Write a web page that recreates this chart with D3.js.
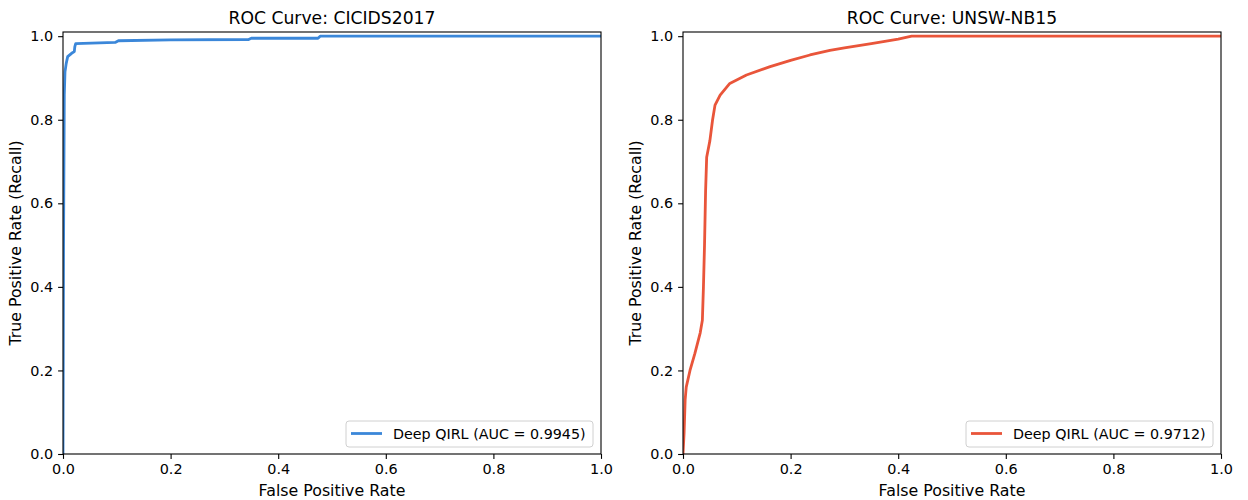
<!DOCTYPE html>
<html>
<head>
<meta charset="utf-8">
<script src="https://cdn.jsdelivr.net/npm/d3@7"></script>
<style>
  body { margin: 0; background: #fff; }
  svg { display: block; font-family: "DejaVu Sans", sans-serif; }
</style>
</head>
<body>
<svg id="chart" width="1248" height="500"></svg>
<script>
// ROC points: [fpr, tpr]
const cicidsRoc = [
  [0, 0], [0.001, 0.5], [0.0024, 0.86], [0.0037, 0.915], [0.006, 0.935],
  [0.0087, 0.951], [0.016, 0.959], [0.021, 0.963], [0.022, 0.975], [0.0236, 0.982],
  [0.097, 0.985], [0.103, 0.989], [0.2, 0.991], [0.345, 0.992], [0.35, 0.995],
  [0.474, 0.995], [0.478, 1.0], [1, 1]
];
const unswRoc = [
  [0, 0], [0.002, 0.05], [0.004, 0.13], [0.006, 0.16], [0.013, 0.2], [0.022, 0.24],
  [0.032, 0.29], [0.036, 0.32], [0.038, 0.4], [0.04, 0.5], [0.042, 0.63],
  [0.044, 0.71], [0.05, 0.75], [0.055, 0.8], [0.0595, 0.835], [0.069, 0.859],
  [0.087, 0.887], [0.118, 0.907], [0.162, 0.927], [0.2, 0.942], [0.236, 0.955],
  [0.273, 0.966], [0.3, 0.972], [0.35, 0.982], [0.4, 0.993], [0.425, 1.0], [1, 1]
];
const panelTitles = ["ROC Curve: CICIDS2017", "ROC Curve: UNSW-NB15"];
const legendLabels = ["Deep QIRL (AUC = 0.9945)", "Deep QIRL (AUC = 0.9712)"];
const lineColors = ["#3b87d9", "#e9553a"];
const tickValues = [0, 0.2, 0.4, 0.6, 0.8, 1.0];

const svg = d3.select("#chart");
const panels = [
  { data: cicidsRoc, left: 63, right: 601 },
  { data: unswRoc, left: 683, right: 1221 }
];
const plotTop = 32, plotBottom = 454;

panels.forEach((p, i) => {
  const x = d3.scaleLinear().domain([0, 1]).range([p.left, p.right]);
  const y = d3.scaleLinear().domain([0, 1.01]).range([plotBottom, plotTop]);
  const g = svg.append("g");

  const clipId = "clip" + i;
  g.append("clipPath").attr("id", clipId)
    .append("rect").attr("x", p.left).attr("y", plotTop)
    .attr("width", p.right - p.left).attr("height", plotBottom - plotTop);

  g.append("path")
    .datum(p.data)
    .attr("clip-path", `url(#${clipId})`)
    .attr("fill", "none")
    .attr("stroke", lineColors[i])
    .attr("stroke-width", 2.8)
    .attr("stroke-linejoin", "round")
    .attr("d", d3.line().x(d => x(d[0])).y(d => y(d[1])));

  // axes
  const xAxis = g.append("g")
    .attr("transform", `translate(0,${plotBottom})`)
    .call(d3.axisBottom(x).tickValues(tickValues).tickFormat(d3.format(".1f")).tickSize(4.9).tickPadding(4.5));
  const yAxis = g.append("g")
    .attr("transform", `translate(${p.left},0)`)
    .call(d3.axisLeft(y).tickValues(tickValues).tickFormat(d3.format(".1f")).tickSize(4.9).tickPadding(4.9));
  [xAxis, yAxis].forEach(a => {
    a.select(".domain").remove();
    a.selectAll("line").attr("stroke", "#000").attr("stroke-width", 1.1);
    a.selectAll("text").attr("font-size", 14.4).attr("fill", "#000").attr("font-family", "DejaVu Sans");
  });

  // frame
  g.append("rect")
    .attr("x", p.left).attr("y", plotTop)
    .attr("width", p.right - p.left).attr("height", plotBottom - plotTop)
    .attr("fill", "none").attr("stroke", "#000").attr("stroke-width", 1.1);

  const cx = (p.left + p.right) / 2;
  g.append("text")
    .attr("x", cx).attr("y", plotTop - 8.5)
    .attr("text-anchor", "middle").attr("font-size", 17.2)
    .text(panelTitles[i]);
  g.append("text")
    .attr("x", cx).attr("y", 496)
    .attr("text-anchor", "middle").attr("font-size", 15.8)
    .text("False Positive Rate");
  g.append("text")
    .attr("transform", `translate(${p.left - 42},${(plotTop + plotBottom) / 2}) rotate(-90)`)
    .attr("text-anchor", "middle").attr("font-size", 15.8)
    .text("True Positive Rate (Recall)");

  // legend
  const lx = p.right - 255, ly = 421;
  const leg = g.append("g");
  leg.append("rect")
    .attr("x", lx).attr("y", ly).attr("width", 247).attr("height", 26)
    .attr("rx", 3).attr("fill", "#fff").attr("fill-opacity", 0.8)
    .attr("stroke", "#d0d0d0").attr("stroke-width", 1);
  leg.append("line")
    .attr("x1", lx + 5).attr("x2", lx + 36).attr("y1", ly + 12.5).attr("y2", ly + 12.5)
    .attr("stroke", lineColors[i]).attr("stroke-width", 2.8);
  leg.append("text")
    .attr("x", lx + 47).attr("y", ly + 17.8)
    .attr("font-size", 14.3)
    .text(legendLabels[i]);
});
</script>
</body>
</html>
